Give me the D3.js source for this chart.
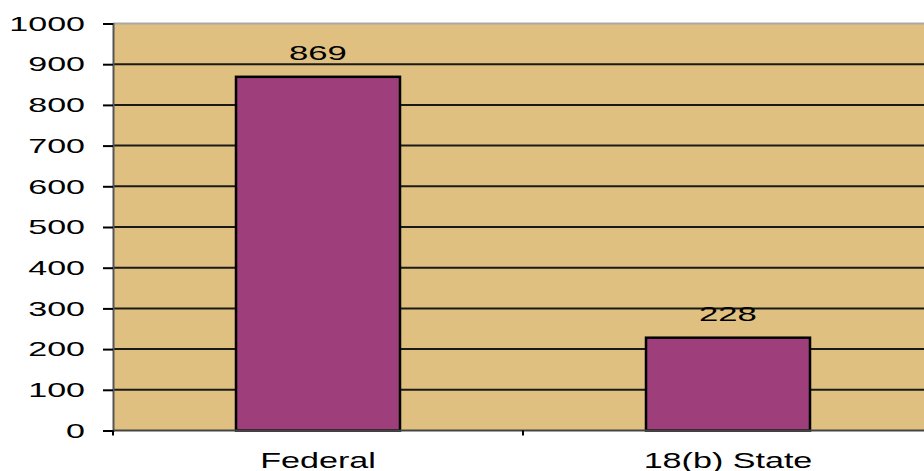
<!DOCTYPE html>
<html>
<head>
<meta charset="utf-8">
<script src="https://cdn.jsdelivr.net/npm/d3@7"></script>
<style>
  body { margin: 0; background: #fff; }
  text { font-family: "Liberation Sans", Arial, sans-serif; fill: #000; }
</style>
</head>
<body>
<svg id="chart" width="924" height="471"></svg>
<script>
var categories = ["Federal", "18(b) State"];
var values = [869, 228];
var yTicks = [0, 100, 200, 300, 400, 500, 600, 700, 800, 900, 1000];

var svg = d3.select("#chart");
var mLeft = 113, mRight = 933, mTop = 23.5, mBottom = 430.5;

var x = d3.scaleBand().domain(categories).range([mLeft, mRight]).paddingInner(0.6).paddingOuter(0.3);
var xOuter = d3.scaleBand().domain(categories).range([mLeft, mRight]);
var y = d3.scaleLinear().domain([0, 1000]).range([mBottom, mTop]);

// the old chart font is stretched wide, so widen each text
function stretch(sel, k) {
    sel.each(function () {
        var w = this.getComputedTextLength();
        d3.select(this).attr("textLength", w * k).attr("lengthAdjust", "spacingAndGlyphs");
    });
}

// plot background
svg.append("rect").attr("x", mLeft).attr("y", mTop)
    .attr("width", mRight - mLeft).attr("height", mBottom - mTop)
    .attr("fill", "#dfc080");
svg.append("line").attr("x1", mLeft).attr("x2", mRight).attr("y1", mTop).attr("y2", mTop)
    .attr("stroke", "#a8a8a8").attr("stroke-width", 2);

// gridlines
svg.selectAll(".grid").data(yTicks.filter(function (d) { return d > 0 && d < 1000; }))
    .enter().append("line").attr("class", "grid")
    .attr("x1", mLeft).attr("x2", mRight)
    .attr("y1", function (d) { return y(d); }).attr("y2", function (d) { return y(d); })
    .attr("stroke", "#1a1a1a").attr("stroke-width", 2);

// bars
svg.selectAll(".bar").data(values).enter().append("rect").attr("class", "bar")
    .attr("x", function (d, i) { return x(categories[i]); })
    .attr("y", function (d) { return y(d); })
    .attr("width", x.bandwidth())
    .attr("height", function (d) { return y(0) - y(d); })
    .attr("fill", "#9e3f7b").attr("stroke", "#000").attr("stroke-width", 2.5);

// value labels
var vals = svg.selectAll(".val").data(values).enter().append("text").attr("class", "val")
    .attr("x", function (d, i) { return x(categories[i]) + x.bandwidth() / 2; })
    .attr("y", function (d) { return y(d) - 17; })
    .attr("text-anchor", "middle").attr("font-size", 21)
    .text(function (d) { return d; });
stretch(vals, 1.65);

// y axis
var yAxis = d3.axisLeft(y).tickValues(yTicks).tickFormat(d3.format("d")).tickSize(10).tickPadding(18);
var gy = svg.append("g").attr("transform", "translate(" + mLeft + ",0)").call(yAxis);
gy.select(".domain").attr("stroke", "#555").attr("stroke-width", 2);
gy.selectAll(".tick line").attr("stroke", "#000").attr("stroke-width", 2);
gy.selectAll(".tick text").attr("font-size", 21)
    .style("font-family", "'Liberation Sans', Arial, sans-serif").attr("fill", "#000");
stretch(gy.selectAll(".tick text"), 1.62);

// x axis
var gx = svg.append("g").attr("transform", "translate(0," + mBottom + ")");
gx.append("line").attr("x1", mLeft).attr("x2", mRight).attr("y1", 0).attr("y2", 0)
    .attr("stroke", "#444").attr("stroke-width", 2);
gx.selectAll(".xt").data(categories).enter().append("line").attr("class", "xt")
    .attr("x1", function (d) { return xOuter(d); }).attr("x2", function (d) { return xOuter(d); })
    .attr("y1", 0).attr("y2", 5).attr("stroke", "#000").attr("stroke-width", 2);
var xl = gx.selectAll(".xl").data(categories).enter().append("text").attr("class", "xl")
    .attr("x", function (d) { return x(d) + x.bandwidth() / 2; })
    .attr("y", 37).attr("text-anchor", "middle")
    .attr("font-size", 22)
    .text(function (d) { return d; });
stretch(xl, 1.55);
</script>
</body>
</html>
